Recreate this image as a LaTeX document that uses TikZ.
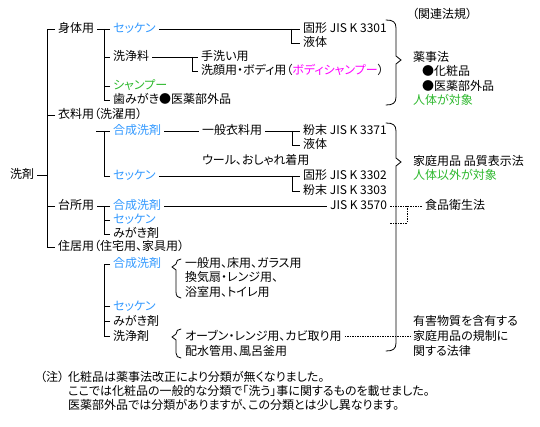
\documentclass[tikz,border=0pt]{standalone}
\usepackage{fontspec}
\newfontfamily\jpfont[RawFeature=+palt]{Noto Sans CJK JP}
\usetikzlibrary{calc}
\definecolor{SekB}{HTML}{3399FF}
\definecolor{JinG}{HTML}{2DB82D}
\definecolor{BodM}{HTML}{FF00FF}
\tikzset{
  TXT/.style={
    anchor=west, inner xsep=3pt, inner ysep=1pt,
    text height=10pt, text depth=2pt,
    font=\jpfont\fontsize{12}{14}\selectfont, text=#1
  },
  TXT/.default=black,
  LN/.style={line width=0.8pt, draw=black},
  DOT/.style={line width=0.8pt, draw=black, dash pattern=on 1.5pt off 1pt},
  BRC/.style={line width=0.8pt, draw=black, line cap=round},
}

\begin{document}
\begin{tikzpicture}[x=1pt,y=-1pt]
\useasboundingbox (0,0) rectangle (540,427);

%================ ROOT =================
\node[TXT] (root) at (7,175) {洗剤};

%================ LEVEL 1 =================
\node[TXT] (shin) at (55,29)  {身体用};
\node[TXT] (iryo) at (55,115) {衣料用（洗濯用）};
\node[TXT] (dai)  at (55,206) {台所用};
\node[TXT] (juk)  at (55,247) {住居用（住宅用、家具用）};

%================ BODY =================
\node[TXT=SekB] (sSek) at (110,29)  {セッケン};
\node[TXT]      (sSen) at (110,57)  {洗浄料};
\node[TXT=JinG] (sSha) at (110,86)  {シャンプー};
\node[TXT]      (sHam) at (110,100) {歯みがき●医薬部外品};

\node[TXT] (sKok) at (300,29) {固形 JIS K 3301};
\node[TXT] (sEki) at (300,43) {液体};
\node[TXT] (sTea) at (198,57) {手洗い用};
\node[TXT] (sGan) at (198,71) {洗顔用・ボディ用（\textcolor{BodM}{ボディシャンプー}）};

%================ CLOTHING =================
\node[TXT=SekB] (iGou) at (110,131) {合成洗剤};
\node[TXT=SekB] (iSek) at (110,176) {セッケン};
\node[TXT] (iIpp) at (199,131) {一般衣料用};
\node[TXT] (iWoo) at (199,161) {ウール、おしゃれ着用};
\node[TXT] (iFun) at (300,131) {粉末 JIS K 3371};
\node[TXT] (iEki) at (300,145) {液体};
\node[TXT] (iKok) at (300,176) {固形 JIS K 3302};
\node[TXT] (iFu2) at (300,191) {粉末 JIS K 3303};

%================ KITCHEN =================
\node[TXT=SekB] (dGou) at (110,206) {合成洗剤};
\node[TXT=SekB] (dSek) at (110,220) {セッケン};
\node[TXT]      (dMig) at (110,234) {みがき剤};
\node[TXT] (dJis) at (327,206) {JIS K 3570};
\node[TXT] (dSho) at (422,206) {食品衛生法};

%================ HOUSING =================
\node[TXT=SekB] (jGou) at (110,264) {合成洗剤};
\node[TXT=SekB] (jSek) at (110,306) {セッケン};
\node[TXT]      (jMig) at (110,321) {みがき剤};
\node[TXT]      (jSen) at (110,336) {洗浄剤};
\node[TXT] (jG1) at (182,264) {一般用、床用、ガラス用};
\node[TXT] (jG2) at (182,278) {換気扇・レンジ用、};
\node[TXT] (jG3) at (182,292) {浴室用、トイレ用};
\node[TXT] (jS1) at (182,336) {オーブン・レンジ用、カビ取り用};
\node[TXT] (jS2) at (182,351) {配水管用、風呂釜用};

%================ LAWS =================
\node[TXT]      (hKan) at (409,15)  {（関連法規）};
\node[TXT]      (hYak) at (410,58)  {薬事法};
\node[TXT]      (hKes) at (419,72)  {●化粧品};
\node[TXT]      (hIbu) at (419,87)  {●医薬部外品};
\node[TXT=JinG] (hJin) at (410,101) {人体が対象};
\node[TXT]      (hKat) at (410,162) {家庭用品 品質表示法};
\node[TXT=JinG] (hIga) at (410,176) {人体以外が対象};
\node[TXT]      (hYu1) at (410,321) {有害物質を含有する};
\node[TXT]      (hYu2) at (410,336) {家庭用品の規制に};
\node[TXT]      (hYu3) at (410,351) {関する法律};

%================ NOTES =================
\node[TXT] (chu) at (37,377) {（注）};
\node[TXT] (n1) at (65,377) {化粧品は薬事法改正により分類が無くなりました。};
\node[TXT] (n2) at (65,391) {ここでは化粧品の一般的な分類で「洗う」事に関するものを載せました。};
\node[TXT] (n3) at (65,405) {医薬部外品では分類がありますが、この分類とは少し異なります。};

%================ TRUNK =================
\coordinate (trunk) at ($(shin.west)+(-8,0)$);
\draw[LN] (root.east) -- (root.east -| trunk);
\draw[LN] (shin.west) -- (trunk) |- (juk.west);
\draw[LN] (iryo.west) -- (iryo.west -| trunk);
\draw[LN] (dai.west) -- (dai.west -| trunk);

%================ BODY LINKS =================
\draw[LN] (shin.east) -- (sSek.west);
\draw[LN] ($(sSek.west)+(-6,0)$) |- (sHam.west);
\draw[LN] (sSen.west) -- ++(-6,0);
\draw[LN] (sSha.west) -- ++(-6,0);

\draw[LN] (sSek.east) -- (sKok.west);
\draw[LN] ($(sKok.west)+(-9,0)$) |- (sEki.west);
\draw[LN] (sSen.east) -- (sTea.west);
\draw[LN] ($(sTea.west)+(-6,0)$) |- (sGan.west);

%================ CLOTHING LINKS =================
\draw[LN] ($(iGou.west)+(-14,0)$) -- (iGou.west);
\draw[LN] ($(iGou.west)+(-6,0)$) |- (iSek.west);
\draw[LN] (iGou.east) -- (iIpp.west);
\draw[LN] (iIpp.east) -- (iFun.west);
\draw[LN] ($(iFun.west)+(-8,0)$) |- (iEki.west);
\draw[LN] (iSek.east) -- (iKok.west);
\draw[LN] ($(iKok.west)+(-8,0)$) |- (iFu2.west);

%================ KITCHEN LINKS =================
\draw[LN] (dai.east) -- (dGou.west);
\draw[LN] ($(dGou.west)+(-6,0)$) |- (dMig.west);
\draw[LN] (dSek.west) -- ++(-6,0);
\draw[LN] (dGou.east) -- (dJis.west);
\draw[DOT] (dJis.east) -- (dSho.west);
\coordinate (hook) at (407,223);
\draw[DOT] (dJis.east -| hook) -- (hook) -- ++(-18,0);

%================ HOUSING LINKS =================
\draw[LN] (jGou.west) -- ++(-6,0) |- (jSen.west);
\draw[LN] (jSek.west) -- ++(-6,0);
\draw[LN] (jMig.west) -- ++(-6,0);
\draw[DOT] (jS1.east) -- (hYu2.west);

%================ BRACES =================
\draw[BRC] (386,20) .. controls (393,20) and (396,22) .. (396,28)
  -- (396,56) -- (401,60) -- (396,64) -- (396,97)
  .. controls (396,103) and (393,105) .. (386,105);
\draw[BRC] (386,123) .. controls (393,123) and (396,125) .. (396,131)
  -- (396,158) -- (401,162) -- (396,166) -- (396,343)
  .. controls (396,349) and (393,351) .. (386,351);
\draw[BRC] (181,259) .. controls (178,259) and (176,261) .. (176,264)
  -- (172,267) -- (176,270) -- (176,292)
  .. controls (176,296) and (178,298) .. (181,298);
\draw[BRC] (181,329) .. controls (178,329) and (176,331) .. (176,334)
  -- (172,337) -- (176,340) -- (176,353)
  .. controls (176,356) and (178,358) .. (181,358);

\end{tikzpicture}
\end{document}
